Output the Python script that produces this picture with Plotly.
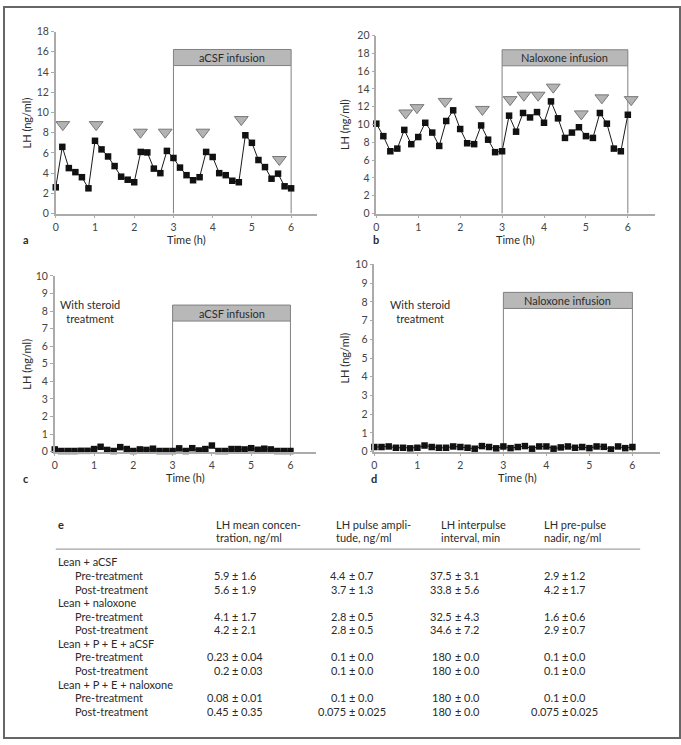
import plotly.graph_objects as go

W, H = 681, 745

# ---------------- data ----------------
time_min = [0, 10, 20, 30, 40, 50, 60, 70, 80, 90, 100, 110, 120, 130, 140, 150, 160, 170, 180,
            190, 200, 210, 220, 230, 240, 250, 260, 270, 280, 290, 300, 310, 320, 330, 340, 350, 360]
time_h = [m / 60 for m in time_min]

lh_a = [2.6, 6.6, 4.5, 4.1, 3.6, 2.5, 7.2, 6.35, 5.65, 4.7, 3.65, 3.35, 3.1, 6.1, 6.05, 4.45, 4.0,
        6.2, 5.5, 4.55, 3.8, 3.3, 3.6, 6.1, 5.6, 4.0, 3.8, 3.25, 3.1, 7.75, 7.0, 5.3, 4.6, 3.45,
        3.95, 2.7, 2.5]
pulse_a_t = [0.18, 1.03, 2.16, 2.79, 3.75, 4.73, 5.70]
pulse_a_y = [8.8, 8.8, 8.05, 8.05, 8.05, 9.3, 5.35]

lh_b = [10.1, 8.7, 7.0, 7.3, 9.4, 7.8, 8.6, 10.2, 9.1, 7.6, 10.4, 11.6, 9.5, 7.9, 7.8, 9.9, 8.3,
        6.9, 7.0, 11.0, 9.2, 11.3, 10.8, 11.4, 10.2, 12.6, 10.7, 8.5, 9.1, 9.7, 8.7, 8.5, 11.3,
        10.1, 7.3, 7.0, 11.1]
pulse_b_t = [0.70, 0.97, 1.64, 2.53, 3.19, 3.52, 3.86, 4.22, 4.89, 5.38, 6.08]
pulse_b_y = [11.3, 11.9, 12.6, 11.7, 12.8, 13.3, 13.3, 14.2, 11.2, 13.0, 12.8]

lh_c = [0.13, 0.04, 0.04, 0.04, 0.05, 0.05, 0.15, 0.28, 0.1, 0.04, 0.26, 0.15, 0.04, 0.13, 0.1,
        0.17, 0.04, 0.04, 0.04, 0.19, 0.04, 0.2, 0.07, 0.15, 0.35, 0.04, 0.04, 0.15, 0.15, 0.13,
        0.2, 0.11, 0.17, 0.13, 0.04, 0.04, 0.04]

lh_d = [0.25, 0.25, 0.28, 0.21, 0.21, 0.18, 0.21, 0.33, 0.25, 0.21, 0.21, 0.28, 0.25, 0.21, 0.16,
        0.3, 0.25, 0.18, 0.28, 0.19, 0.25, 0.3, 0.16, 0.28, 0.28, 0.16, 0.23, 0.28, 0.21, 0.25,
        0.19, 0.28, 0.26, 0.12, 0.28, 0.19, 0.25]

infusion_labels = ["aCSF infusion", "Naloxone infusion", "aCSF infusion", "Naloxone infusion"]

table_headers = [["LH mean concen-", "tration, ng/ml"],
                 ["LH pulse ampli-", "tude, ng/ml"],
                 ["LH interpulse", "interval, min"],
                 ["LH pre-pulse", "nadir, ng/ml"]]
groups = ["Lean + aCSF", "Lean + naloxone", "Lean + P + E + aCSF", "Lean + P + E + naloxone"]
phases = ["Pre-treatment", "Post-treatment"]
mean_conc = [["5.9", "1.6"], ["5.6", "1.9"], ["4.1", "1.7"], ["4.2", "2.1"],
             ["0.23", "0.04"], ["0.2", "0.03"], ["0.08", "0.01"], ["0.45", "0.35"]]
pulse_amp = [["4.4", "0.7"], ["3.7", "1.3"], ["2.8", "0.5"], ["2.8", "0.5"],
             ["0.1", "0.0"], ["0.1", "0.0"], ["0.1", "0.0"], ["0.075", "0.025"]]
interpulse = [["37.5", "3.1"], ["33.8", "5.6"], ["32.5", "4.3"], ["34.6", "7.2"],
              ["180", "0.0"], ["180", "0.0"], ["180", "0.0"], ["180", "0.0"]]
nadir = [["2.9", "1.2"], ["4.2", "1.7"], ["1.6", "0.6"], ["2.9", "0.7"],
         ["0.1", "0.0"], ["0.1", "0.0"], ["0.1", "0.0"], ["0.075", "0.025"]]

# ---------------- layout helpers ----------------
def px(x):
    return x / W

def py(y):
    return 1 - y / H

FONT = "Lato, 'Open Sans', sans-serif"
TXT = "#2b2b2b"
AXC = "#ababab"


def ann(x, y, text, size=11, xanchor="center", yanchor="middle", xref="paper", yref="paper",
        **kw):
    d = dict(x=x, y=y, xref=xref, yref=yref, text=text, showarrow=False,
             xanchor=xanchor, yanchor=yanchor, font=dict(size=size, color=TXT, family=FONT))
    d.update(kw)
    return d


panels = [
    dict(x0=53, pph=39.4, yb=211, yt=26, ymax=18, dtick=2, letter="a", lx=23, ly=237, data=lh_a),
    dict(x0=375, pph=42.1, yb=211, yt=30, ymax=20, dtick=2, letter="b", lx=375, ly=237, data=lh_b),
    dict(x0=52, pph=39.45, yb=453, yt=274.3, ymax=10, dtick=1, letter="c", lx=23, ly=480, data=lh_c),
    dict(x0=373, pph=43.2, yb=453, yt=262.7, ymax=10, dtick=1, letter="d", lx=373, ly=480, data=lh_d),
]
XMAX = 6.65
box_tops = [(16.23, 14.64), (18.4, 16.6), (8.34, 7.43), (8.51, 7.65)]

fig = go.Figure()
layout = dict(width=W, height=H, margin=dict(l=0, r=0, t=0, b=0),
              paper_bgcolor="white", plot_bgcolor="white", showlegend=False,
              font=dict(family=FONT, color=TXT, size=11))
shapes = []
annotations = []

for i, p in enumerate(panels):
    k = "" if i == 0 else str(i + 1)
    xa, ya = "xaxis" + k, "yaxis" + k
    xr, yr = "x" + k, "y" + k
    x_end = p["x0"] + XMAX * p["pph"]
    layout[xa] = dict(domain=[px(p["x0"]), px(x_end)], range=[0, XMAX], anchor=yr,
                      tickvals=[0, 1, 2, 3, 4, 5, 6], ticks="outside", ticklen=3, tickwidth=1,
                      tickcolor=AXC, showline=True, linecolor=AXC, linewidth=1.5,
                      showgrid=False, zeroline=False,
                      tickfont=dict(family=FONT, size=10.5, color="#444"))
    layout[ya] = dict(domain=[py(p["yb"]), py(p["yt"])], range=[0, p["ymax"]], anchor=xr,
                      dtick=p["dtick"], tick0=0, ticks="outside", ticklen=3, tickwidth=1,
                      tickcolor=AXC, showline=True, linecolor=AXC, linewidth=1.5,
                      showgrid=False, zeroline=False,
                      tickfont=dict(family=FONT, size=10.5, color="#444"))

    # infusion box
    top, hb = box_tops[i]
    shapes.append(dict(type="rect", xref=xr, yref=yr, x0=3, x1=6, y0=hb, y1=top,
                       fillcolor="#b8b8b8", line=dict(color="#808080", width=1), layer="below"))
    for xv in (3, 6):
        shapes.append(dict(type="line", xref=xr, yref=yr, x0=xv, x1=xv, y0=0, y1=hb,
                           line=dict(color="#808080", width=1), layer="below"))
    annotations.append(ann(4.5, (top + hb) / 2, infusion_labels[i], xref=xr, yref=yr))

    fig.add_trace(go.Scatter(x=time_h, y=p["data"], xaxis=xr, yaxis=yr, mode="lines+markers",
                             line=dict(color="#1a1a1a", width=1),
                             marker=dict(symbol="square", size=6.5, color="#111"),
                             cliponaxis=False, hoverinfo="skip"))

    annotations.append(ann(px((p["x0"] + x_end) / 2), py(p["yb"] + 26), "Time (h)"))
    annotations.append(ann(px(p["lx"]), py(p["ly"]), "<b>" + p["letter"] + "</b>"))
    ylab_x = 24 if i % 2 == 0 else 343
    annotations.append(ann(px(ylab_x), py((p["yb"] + p["yt"]) / 2), "LH (ng/ml)",
                           textangle=-90))

# pulse triangles
fig.add_trace(go.Scatter(x=pulse_a_t, y=pulse_a_y, xaxis="x", yaxis="y", mode="markers",
                         marker=dict(symbol="triangle-down", size=12, color="#b3b3b3",
                                     line=dict(color="#777", width=1)),
                         cliponaxis=False, hoverinfo="skip"))
fig.add_trace(go.Scatter(x=pulse_b_t, y=pulse_b_y, xaxis="x2", yaxis="y2", mode="markers",
                         marker=dict(symbol="triangle-down", size=12, color="#b3b3b3",
                                     line=dict(color="#777", width=1)),
                         cliponaxis=False, hoverinfo="skip"))

# steroid labels
annotations.append(ann(0.9, 7.95, "With steroid<br>treatment", xref="x3", yref="y3"))
annotations.append(ann(1.07, 7.47, "With steroid<br>treatment", xref="x4", yref="y4"))

# ---------------- table ----------------
TF = 11
RH = 13
annotations.append(ann(px(53), py(527), "<b>e</b>", size=TF, xanchor="left", height=RH))
head_x = [212, 332, 438, 541]
pm_x = [233, 351, 457, 564]
for j, hd in enumerate(table_headers):
    for r, line in enumerate(hd):
        annotations.append(ann(px(head_x[j]), py(527 + 13.5 * r), line, size=TF,
                               xanchor="left", height=RH))
shapes.append(dict(type="line", xref="paper", yref="paper", x0=px(53), x1=px(640),
                   y0=py(552), y1=py(552), line=dict(color="#8c8c8c", width=1)))

row_y0 = 565
row_dy = 13.8
cols = [mean_conc, pulse_amp, interpulse, nadir]
row = 0
for g, grp in enumerate(groups):
    annotations.append(ann(px(53), py(row_y0 + row_dy * row), grp, size=TF, xanchor="left",
                           height=RH))
    row += 1
    for ph_i, ph in enumerate(phases):
        yy = py(row_y0 + row_dy * row)
        annotations.append(ann(px(70), yy, ph, size=TF, xanchor="left", height=RH))
        idx = g * 2 + ph_i
        for j, col in enumerate(cols):
            m, s = col[idx]
            annotations.append(ann(px(pm_x[j] - 4), yy, m, size=TF, xanchor="right", height=RH))
            annotations.append(ann(px(pm_x[j]), yy, "±", size=TF, height=RH))
            annotations.append(ann(px(pm_x[j] + 4), yy, s, size=TF, xanchor="left", height=RH))
        row += 1

# outer frame
shapes.append(dict(type="rect", xref="paper", yref="paper", x0=px(1), x1=px(W - 1),
                   y0=py(H - 1), y1=py(1), line=dict(color="#666", width=2),
                   fillcolor="rgba(0,0,0,0)"))

layout["shapes"] = shapes
layout["annotations"] = annotations
fig.update_layout(**layout)

fig.write_html("out.html", config={"displayModeBar": False},
               post_script="document.body.style.margin='0';document.body.style.overflow='hidden';")
